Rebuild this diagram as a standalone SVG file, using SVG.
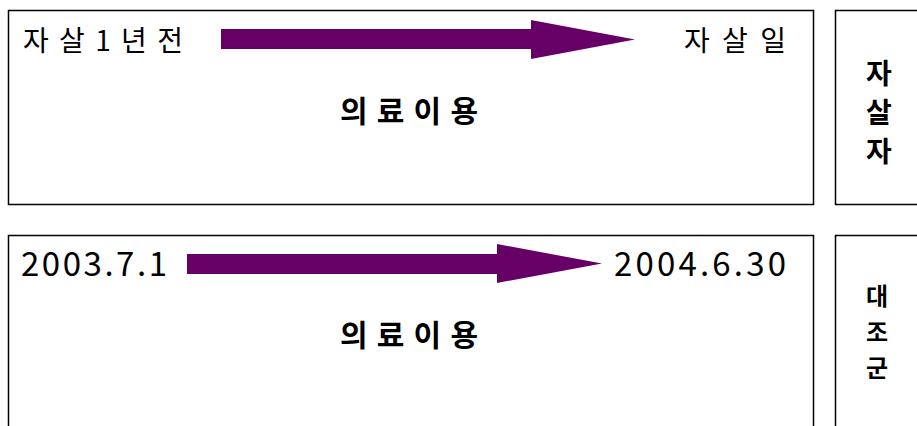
<svg xmlns="http://www.w3.org/2000/svg" width="917" height="426" viewBox="0 0 917 426">
<style>
.box{fill:#fff;stroke:#000;stroke-width:1.5}
.t{font-family:"Noto Sans CJK KR","Liberation Sans",sans-serif;font-size:28px;fill:#000}
.d{font-family:"Noto Sans CJK KR","Liberation Sans",sans-serif;font-size:33px;fill:#000}
.b{font-family:"Noto Sans CJK KR","Liberation Sans",sans-serif;font-size:30px;font-weight:bold;fill:#000}
.v{font-family:"Noto Sans CJK KR","Liberation Sans",sans-serif;font-size:28px;font-weight:bold;fill:#000}
.v2{font-family:"Noto Sans CJK KR","Liberation Sans",sans-serif;font-size:24px;font-weight:bold;fill:#000}
.arr{fill:#660066}
</style>
<g id="suicide-period">
<rect class="box" x="8.5" y="10.5" width="805" height="194"/>
<text class="t" x="23" y="51" textLength="160" lengthAdjust="spacing">자살1년전</text>
<text class="t" x="684" y="51" textLength="102" lengthAdjust="spacing">자살일</text>
<text class="b" x="340" y="122" textLength="138" lengthAdjust="spacing">의료이용</text>
</g>
<g id="suicide-label">
<rect class="box" x="835.5" y="10.5" width="90" height="194"/>
<text class="v" text-anchor="middle"><tspan x="879" y="84">자</tspan><tspan x="879" y="123">살</tspan><tspan x="879" y="162">자</tspan></text>
</g>
<g id="control-period">
<rect class="box" x="8.5" y="235.5" width="805" height="200"/>
<text class="d" x="21" y="276" textLength="146" lengthAdjust="spacing">2003.7.1</text>
<text class="d" x="614" y="276" textLength="172" lengthAdjust="spacing">2004.6.30</text>
<text class="b" x="340" y="346" textLength="138" lengthAdjust="spacing">의료이용</text>
</g>
<g id="control-label">
<rect class="box" x="835.5" y="235.5" width="90" height="200"/>
<text class="v2" text-anchor="middle"><tspan x="877" y="305">대</tspan><tspan x="877" y="341">조</tspan><tspan x="877" y="377">군</tspan></text>
</g>
<g id="connectors">
<polygon class="arr" points="221,29 531,29 531,20 635,39.5 531,59 531,49 221,49"/>
<polygon class="arr" points="187,254 497,254 497,244 602,263.5 497,283 497,274 187,274"/>
</g>
</svg>
